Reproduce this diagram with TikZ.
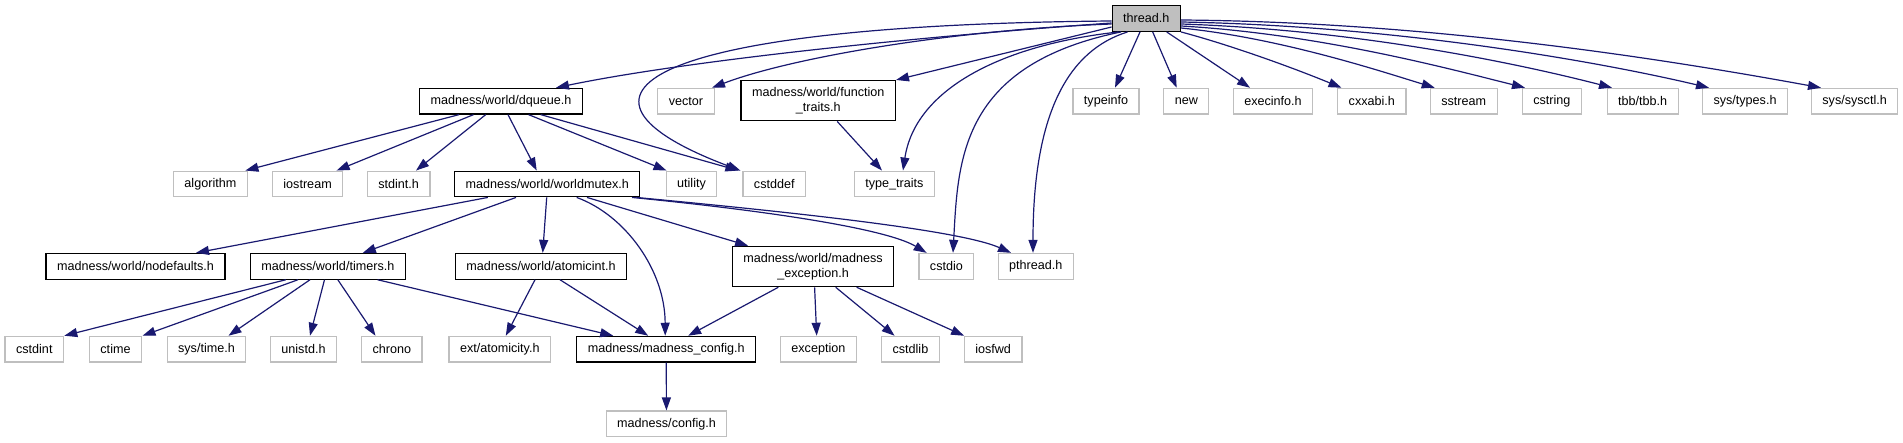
\documentclass[tikz,border=0pt]{standalone}
\usepackage{fontspec}
\setmainfont{Liberation Sans}
\usetikzlibrary{arrows.meta}
\definecolor{edgeblue}{HTML}{191970}
\definecolor{extgray}{HTML}{BFBFBF}

\begin{document}
\begin{tikzpicture}[x=1pt, y=-1pt, >={Triangle[length=13pt, width=9pt]},
    hdr/.style={rectangle, line width=1.2pt, inner xsep=11pt, inner ysep=6.8pt,
        minimum height=25.7pt, font=\fontsize{12.6}{15}\selectfont, align=center, fill=white},
    doc/.style={hdr, draw=black},
    ext/.style={hdr, draw=extgray},
    dep/.style={->, color=edgeblue, line width=1.2pt}]
    \useasboundingbox (0,0) rectangle (1903,443);

    % Top file
    \node[doc, fill=extgray] (thread) at (1146.3,18.5) {thread.h};

    % Level 2
    \node[doc] (dqueue) at (501,101.2) {madness/world/dqueue.h};
    \node[ext] (vector) at (686,101.2) {vector};
    \node[doc] (ftraits) at (818.2,100.7) {madness/world/function\\\_traits.h};
    \node[ext] (typeinfo) at (1106,101.2) {typeinfo};
    \node[ext] (newh) at (1186.3,101.2) {new};
    \node[ext] (execinfo) at (1273,101.2) {execinfo.h};
    \node[ext] (cxxabi) at (1371.8,101.2) {cxxabi.h};
    \node[ext] (sstream) at (1463.7,101.2) {sstream};
    \node[ext] (cstring) at (1551.8,101.2) {cstring};
    \node[ext] (tbb) at (1642.6,101.2) {tbb/tbb.h};
    \node[ext] (systypes) at (1745,101.2) {sys/types.h};
    \node[ext] (sysctl) at (1854.6,101.2) {sys/sysctl.h};

    % Level 3
    \node[ext] (algorithm) at (210.4,184) {algorithm};
    \node[ext] (iostream) at (307.6,184) {iostream};
    \node[ext] (stdinth) at (398.6,184) {stdint.h};
    \node[doc] (wmutex) at (547.3,184) {madness/world/worldmutex.h};
    \node[ext] (utility) at (691.5,184) {utility};
    \node[ext] (cstddef) at (774.3,184) {cstddef};
    \node[ext] (ttraits) at (894.4,184) {type\_traits};

    % Level 4
    \node[doc] (nodefaults) at (135.5,266.3) {madness/world/nodefaults.h};
    \node[doc] (timers) at (327.8,266.3) {madness/world/timers.h};
    \node[doc] (atomicint) at (541,266.3) {madness/world/atomicint.h};
    \node[doc] (mexcept) at (813.1,266.5) {madness/world/madness\\\_exception.h};
    \node[ext] (cstdio) at (946.4,266.3) {cstdio};
    \node[ext] (pthread) at (1035.8,266.3) {pthread.h};

    % Level 5
    \node[ext] (cstdint) at (34.3,349.2) {cstdint};
    \node[ext] (ctime) at (115.5,349.2) {ctime};
    \node[ext] (systime) at (206.5,349.2) {sys/time.h};
    \node[ext] (unistd) at (303.5,349.2) {unistd.h};
    \node[ext] (chrono) at (391.8,349.2) {chrono};
    \node[ext] (atomicity) at (499.8,349.2) {ext/atomicity.h};
    \node[doc] (mconfig) at (666.2,349.2) {madness/madness\_config.h};
    \node[ext] (exception) at (818.4,349.2) {exception};
    \node[ext] (cstdlib) at (910.4,349.2) {cstdlib};
    \node[ext] (iosfwd) at (993.1,349.2) {iosfwd};

    % Level 6
    \node[ext] (config) at (666.5,423.9) {madness/config.h};

    % Includes of thread.h
    \draw[dep] ([yshift=-4.5pt]thread.west) .. controls (900,38) and (680,62) .. ([xshift=55pt]dqueue.north);
    \draw[dep] ([yshift=-2.5pt]thread.west) .. controls (640,25) and (540,95) .. ([xshift=-2pt]cstddef.north west);
    \draw[dep] ([yshift=-5.5pt]thread.west) .. controls (950,30) and (790,58) .. ([xshift=26pt]vector.north);
    \draw[dep] ([yshift=-8.5pt]thread.west) -- (ftraits.north east);
    \draw[dep] ([xshift=-27.7pt]thread.south) .. controls (1000,45) and (915,90) .. ([xshift=8.6pt]ttraits.north);
    \draw[dep] ([xshift=-25.3pt]thread.south) .. controls (960,65) and (958,160) .. ([xshift=6.6pt]cstdio.north);
    \draw[dep] ([xshift=-18.8pt]thread.south) .. controls (1070,50) and (1033,110) .. ([xshift=-2.8pt]pthread.north);
    \draw[dep] ([xshift=-6.3pt]thread.south) -- ([xshift=9pt]typeinfo.north);
    \draw[dep] ([xshift=6.4pt]thread.south) -- ([xshift=-9.6pt]newh.north);
    \draw[dep] ([xshift=20.4pt]thread.south) -- ([xshift=-23pt]execinfo.north);
    \draw[dep] (thread.south east) .. controls (1230,45) and (1291,67) .. ([xshift=-30.3pt]cxxabi.north);
    \draw[dep] ([yshift=-9.5pt]thread.east) .. controls (1280,38) and (1380,71) .. ([xshift=-29pt]sstream.north);
    \draw[dep] ([yshift=-7.5pt]thread.east) .. controls (1320,34) and (1450,69) .. ([xshift=-26.8pt]cstring.north);
    \draw[dep] ([yshift=-5.5pt]thread.east) .. controls (1360,30) and (1520,64) .. ([xshift=-30.6pt]tbb.north);
    \draw[dep] ([yshift=-3.5pt]thread.east) .. controls (1400,26) and (1600,62) .. ([xshift=-36pt]systypes.north);
    \draw[dep] ([yshift=-1.5pt]thread.east) .. controls (1440,22) and (1680,62) .. ([xshift=-33.6pt]sysctl.north);

    % Includes of dqueue.h
    \draw[dep] ([xshift=-42pt]dqueue.south) -- ([xshift=35pt]algorithm.north);
    \draw[dep] ([xshift=-27.5pt]dqueue.south) -- ([xshift=29pt]iostream.north);
    \draw[dep] ([xshift=-15.3pt]dqueue.south) -- ([xshift=17.4pt]stdinth.north);
    \draw[dep] ([xshift=7pt]dqueue.south) -- ([xshift=-10.6pt]wmutex.north);
    \draw[dep] ([xshift=27.6pt]dqueue.south) -- ([xshift=-25pt]utility.north);
    \draw[dep] ([xshift=39.8pt]dqueue.south) -- ([xshift=-4pt]cstddef.north west);

    % Includes of worldmutex.h
    \draw[dep] ([xshift=-59.5pt]wmutex.south) -- ([xshift=60.5pt]nodefaults.north);
    \draw[dep] ([xshift=-31.3pt]wmutex.south) -- ([xshift=35pt]timers.north);
    \draw[dep] ([xshift=-0.6pt]wmutex.south) -- ([xshift=1.7pt]atomicint.north);
    \draw[dep] ([xshift=29.4pt]wmutex.south) .. controls (625,215) and (665,270) .. ([xshift=-1pt]mconfig.north);
    \draw[dep] ([xshift=39.7pt]wmutex.south) -- ([xshift=-65pt]mexcept.north);
    \draw[dep] ([xshift=84.7pt]wmutex.south) .. controls (760,210) and (885,228) .. ([xshift=-19.8pt]cstdio.north);
    \draw[dep] ([xshift=89pt]wmutex.south) .. controls (790,212) and (960,230) .. ([xshift=-24.8pt]pthread.north);

    % Includes of function_traits.h
    \draw[dep] ([xshift=19pt]ftraits.south) -- ([xshift=-12.4pt]ttraits.north);

    % Includes of timers.h
    \draw[dep] ([xshift=-42pt]timers.south) -- ([xshift=30pt]cstdint.north);
    \draw[dep] ([xshift=-29.8pt]timers.south) -- ([xshift=27pt]ctime.north);
    \draw[dep] ([xshift=-17.8pt]timers.south) -- ([xshift=22pt]systime.north);
    \draw[dep] ([xshift=-3.3pt]timers.south) -- ([xshift=6.5pt]unistd.north);
    \draw[dep] ([xshift=10pt]timers.south) -- ([xshift=-16.3pt]chrono.north);
    \draw[dep] ([xshift=49.8pt]timers.south) -- ([xshift=-53pt]mconfig.north);

    % Includes of atomicint.h
    \draw[dep] ([xshift=-6pt]atomicint.south) -- ([xshift=6pt]atomicity.north);
    \draw[dep] ([xshift=19pt]atomicint.south) -- ([xshift=-18pt]mconfig.north);

    % Includes of madness_exception.h
    \draw[dep] ([xshift=-34.8pt]mexcept.south) -- ([xshift=22pt]mconfig.north);
    \draw[dep] ([xshift=1.5pt]mexcept.south) -- ([xshift=-1.7pt]exception.north);
    \draw[dep] ([xshift=22.6pt]mexcept.south) -- ([xshift=-15.8pt]cstdlib.north);
    \draw[dep] ([xshift=43.6pt]mexcept.south) -- ([xshift=-29pt]iosfwd.north);

    % Includes of madness_config.h
    \draw[dep] (mconfig) -- (config);
\end{tikzpicture}
\end{document}
